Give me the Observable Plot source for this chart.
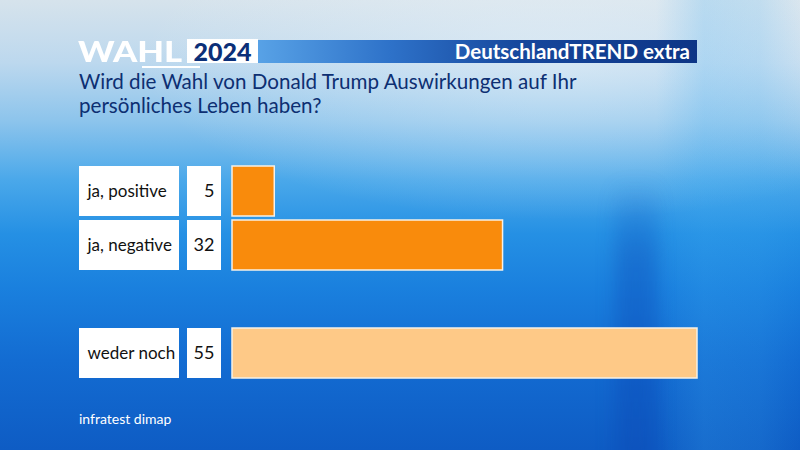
<!DOCTYPE html>
<html>
<head>
<meta charset="utf-8">
<script src="https://cdn.jsdelivr.net/npm/d3@7"></script>
<script src="https://cdn.jsdelivr.net/npm/@observablehq/plot@0.6"></script>
<style>
  html, body { margin: 0; padding: 0; }
  body { width: 800px; height: 450px; overflow: hidden; font-family: Lato, "Noto Sans", sans-serif; }
  #stage {
    position: relative; width: 800px; height: 450px; overflow: hidden;
    background:
      linear-gradient(90deg, rgba(40,150,235,0) 0%, rgba(40,150,235,0) 82%, rgba(60,170,240,0.22) 88%, rgba(60,170,240,0.16) 95%, rgba(40,150,235,0) 100%),
      radial-gradient(ellipse 420px 160px at 560px 60px, rgba(240,246,250,0.5), rgba(240,246,250,0) 100%),
      linear-gradient(180deg, #d6e3ec 0%, #bcd8ee 14%, #8cc4ec 27%, #4aa8ea 40%, #2590e4 52%, #1a80de 64%, #136cd2 80%, #0e5cc4 100%);
  }
  #darkband { position: absolute; left: 615px; top: 180px; width: 42px; height: 300px;
    background: linear-gradient(180deg, rgba(12,70,180,0) 0%, rgba(12,70,180,0.35) 25%, rgba(12,70,180,0.4) 100%); filter: blur(9px); }
  #wahl { position: absolute; left: 78px; top: 35px; font: 900 28px Lato, sans-serif; color: #fff; line-height: 32px; transform-origin: 0 0; white-space: nowrap; }
  #uline { position: absolute; left: 142px; top: 66px; width: 58px; height: 1.5px; background: #fff; }
  #year { position: absolute; left: 187px; top: 39px; width: 71px; height: 24px; background: #fff; color: #0b2f78; font: 900 25px Lato, sans-serif; line-height: 25px; text-align: center; }
  #band { position: absolute; left: 258px; top: 40px; width: 439px; height: 23px;
    background: linear-gradient(90deg, #58a2e6 0%, #2e72c9 30%, #16479c 60%, #0d3586 100%); }
  #trend { position: absolute; right: 110px; top: 40px; color: #fff; font: 700 20.5px Lato, sans-serif; line-height: 23px; }
  #title { position: absolute; left: 79px; top: 69px; width: 640px; color: #0d2f72; font: 400 20.6px Lato, sans-serif; line-height: 24px; }
  #chart { position: absolute; left: 0; top: 150px; }
  #source { position: absolute; left: 79px; top: 410px; color: #fff; font: 400 14px Lato, sans-serif; }
</style>
</head>
<body>
<div id="stage">
  <div id="darkband"></div>
  <div id="wahl">WAHL</div>
  <div id="uline"></div>
  <div id="year">2024</div>
  <div id="band"></div>
  <div id="trend">DeutschlandTREND extra</div>
  <div id="title">Wird die Wahl von Donald Trump Auswirkungen auf Ihr<br>persönliches Leben haben?</div>
  <div id="chart"></div>
  <div id="source">infratest dimap</div>
</div>
<script>
// Data
const categories = ["ja, positive", "ja, negative", "weder noch"];
const values = [5, 32, 55];
const colors = ["#f98b0c", "#f98b0c", "#fec987"];
const spacer = " ";
const yDomain = [categories[0], categories[1], spacer, categories[2]];

const rows = categories.map((c, i) => ({label: c, value: values[i], color: colors[i]}));

// stretch the WAHL logo text to its box width
const wahl = document.getElementById("wahl");
wahl.style.transform = `scaleX(${104 / wahl.offsetWidth})`;

const plot = Plot.plot({
  width: 800,
  height: 240,
  marginLeft: 79,
  marginRight: 103,
  marginTop: 10.5,
  marginBottom: 7,
  style: {background: "transparent", fontFamily: "Lato, 'Noto Sans', sans-serif"},
  x: {domain: [0, 55], range: [232, 697], axis: null},
  y: {domain: yDomain, padding: 0.0826, axis: null},
  marks: [
    // label boxes
    Plot.cell(rows, {y: "label", fill: "#ffffff", insetLeft: 0, insetRight: 518}),
    // value boxes
    Plot.cell(rows, {y: "label", fill: "#ffffff", insetLeft: 108, insetRight: 476}),
    // bars
    Plot.barX(rows, {x: "value", y: "label", fill: "color", stroke: "#f6f1e6", strokeWidth: 1.5}),
    // labels
    Plot.text(rows, {y: "label", text: "label", frameAnchor: "left", dx: 8, textAnchor: "start", fontSize: 17, fill: "#111"}),
    // values
    Plot.text(rows, {y: "label", text: d => String(d.value), frameAnchor: "left", dx: 135, textAnchor: "end", fontSize: 18, fill: "#111"})
  ]
});
document.getElementById("chart").appendChild(plot);
</script>
</body>
</html>
